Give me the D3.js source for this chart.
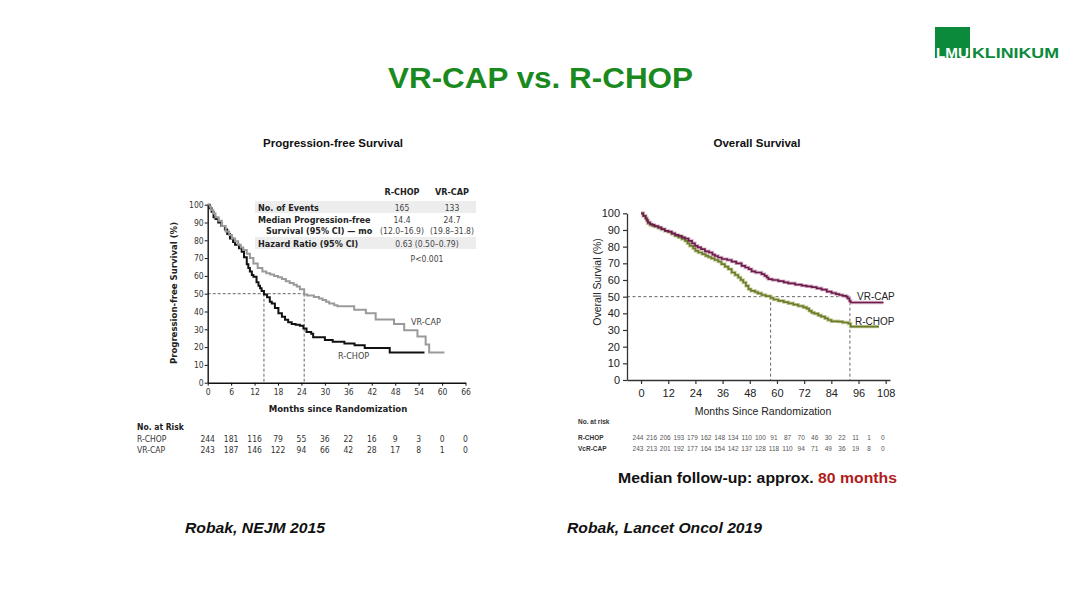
<!DOCTYPE html>
<html><head><meta charset="utf-8">
<script src="https://cdn.jsdelivr.net/npm/d3@7"></script>
<style>
html,body{margin:0;padding:0;background:#fff;}
svg{display:block;}
</style></head>
<body>
<svg id="c" width="1080" height="609"></svg>
<script>
// ---------- DATA ----------
const pfsXTicks = [0,6,12,18,24,30,36,42,48,54,60,66];
const pfsYTicks = [0,10,20,30,40,50,60,70,80,90,100];
const pfsRchop = [[0,100],[0.5,98],[1,96],[1.5,93],[2,92],[2.7,90],[3.5,88],[4.4,86],[5,83.5],[5.7,81],[6.5,79],[7,77.5],[8,75.5],[8.7,73.5],[9.3,70.5],[10,66.5],[10.4,64.5],[10.8,62.5],[11.3,60.5],[11.7,59.5],[12.5,56.5],[13,54.5],[13.4,53],[13.8,51.5],[14.4,49.5],[15.2,48],[15.9,45.5],[16.4,44.5],[17.2,42],[18.1,39],[19,37],[19.8,35.3],[20.6,34],[21.5,33],[22.5,32.5],[23.6,32],[24.5,30.5],[25.3,28.5],[26.5,27.5],[27,25.5],[30,24],[32,23],[35,22],[37.6,21],[40.2,19.5],[46.6,17],[55.5,17]];
const pfsVrcap = [[0,100],[0.3,99],[0.8,97],[1.4,95],[2,93],[2.8,91],[3.6,88],[4.6,85],[5.5,83],[6.2,81],[7,79.5],[7.8,77.5],[8.5,76],[9.1,74.5],[10,72.5],[10.8,70],[11.7,67],[12.8,64.5],[14,62.5],[15,61.5],[16,60.8],[17,60],[18,59.3],[19,58.3],[20,57],[21,56],[22,55],[22.8,54],[23.6,52.5],[24.7,49.5],[25.5,49],[27.2,48.2],[28.5,47.3],[29.4,46.5],[30.3,45.5],[31.1,44.5],[32.4,43.5],[33.2,43],[37.5,41],[40.5,39],[43,35.5],[47.7,33],[50.3,29.5],[53.7,26],[55.8,21.5],[56.7,17],[60.6,17]];
const pfsMedians = [14.4, 24.7];
const pfsTableHeads = ["R-CHOP","VR-CAP"];
const pfsEvents = ["165","133"];
const pfsMedianVals = ["14.4","24.7"];
const pfsMedianCI = ["(12.0–16.9)","(19.8–31.8)"];
const pfsHR = "0.63 (0.50–0.79)";
const pfsP = "P<0.001";
const pfsRiskMonths = [0,6,12,18,24,30,36,42,48,54,60,66];
const pfsRiskRchop = [244,181,116,79,55,36,22,16,9,3,0,0];
const pfsRiskVrcap = [243,187,146,122,94,66,42,28,17,8,1,0];

const osXTicks = [0,12,24,36,48,60,72,84,96,108];
const osYTicks = [0,10,20,30,40,50,60,70,80,90,100];
const osVrcap = [[0,100],[1,98.5],[2,97],[2.5,96],[3,94.5],[4,93.5],[5,93],[6,92.3],[7.6,91.5],[9,90.5],[10.5,89.5],[12,89],[13.5,88],[15,87],[16.5,86.4],[18,85.5],[19.4,84.8],[21,83.5],[22.5,82],[23.8,80.5],[25,79.5],[26.5,78.5],[28.2,77.2],[30,76.5],[31.5,75.2],[32.6,74.4],[34,73.5],[35.6,72.6],[38,72],[40,71],[42,70],[44.4,68.5],[46,67.5],[47.5,66.5],[48.8,65.2],[50.5,64.5],[53.2,63.5],[54.5,62.5],[55.5,61.5],[56.2,60.5],[58,60],[60.6,59.3],[63,58.6],[65,58],[68,57.2],[70.9,56.6],[73,56.2],[75.3,55.7],[77.5,55],[79.7,54.2],[82,53],[84.1,52.2],[86,51.5],[87.5,51],[89,50.5],[90.5,50],[91.2,49],[92,47.5],[92.5,46.5],[107,46.5]];
const osRchop = [[0,100],[1,98.5],[2,97],[2.5,95.5],[3,94],[4,93],[5,92.5],[6,92],[7.6,91.2],[9,90.3],[10.5,89.5],[12,88.8],[13.5,87.6],[15,86.5],[16.5,85.6],[18,84.6],[19.4,83.5],[20.5,82],[21.5,80.5],[23,79],[24,77.5],[25.3,76.5],[27,75.5],[28.5,74.5],[29.7,73.8],[31,73],[32.5,72],[34.1,71],[35.5,69.5],[37,68],[38.5,66.5],[40,64.5],[41.5,63],[42.9,61.5],[44,60],[45.1,58.5],[46.3,56.5],[47.4,54.5],[48.5,53.5],[50.3,52.8],[51.5,52],[53.2,51],[55,50.3],[57.2,49.2],[58.5,48.3],[60.6,47.5],[63,46.7],[65,46],[67.2,45.2],[69.4,44.4],[71.6,43.6],[73.1,42.8],[74.2,41.5],[75.3,40.4],[76.5,39.8],[78.2,38.8],[79.5,38],[81.2,37],[82.5,36],[84,35.2],[87.1,35],[89,34.5],[91.5,33.8],[92.5,32],[105,32]];
const osMedians = [57.2, 92.2];
const osRiskMonths = [0,6,12,18,24,30,36,42,48,54,60,66,72,78,84,90,96,102,108];
const osRiskRchop = [244,216,206,193,179,162,148,134,110,100,91,87,70,46,30,22,11,1,0];
const osRiskVcrcap = [243,213,201,192,177,164,154,142,137,128,118,110,94,71,49,36,19,8,0];

// ---------- DRAW ----------
const svg = d3.select("#c");
const GREEN = "#1a8a1e";
const SANS = "'Liberation Sans', Arial, sans-serif";
const NARROW = "'Liberation Sans Narrow', 'DejaVu Sans Condensed', 'Liberation Sans', sans-serif";

// title
svg.append("text").attr("x",388).attr("y",88)
  .attr("font-family",SANS).attr("font-weight","bold").attr("font-size",29)
  .attr("textLength",305).attr("lengthAdjust","spacingAndGlyphs")
  .attr("fill",GREEN).text("VR-CAP vs. R-CHOP");

// logo
svg.append("rect").attr("x",935).attr("y",27).attr("width",35).attr("height",31).attr("fill","#0a8a3a");
svg.append("text").attr("x",936).attr("y",57.5)
  .attr("font-family",SANS).attr("font-weight","bold").attr("font-size",14)
  .attr("fill","#fff").attr("textLength",33).attr("lengthAdjust","spacingAndGlyphs").text("LMU");
svg.append("text").attr("x",972).attr("y",57.5)
  .attr("font-family",SANS).attr("font-weight","bold").attr("font-size",14.5)
  .attr("fill","#0a8a3a").attr("textLength",87).attr("lengthAdjust","spacingAndGlyphs").text("KLINIKUM");

// ===== Left: PFS =====
const px = d3.scaleLinear().domain([0,66]).range([207.7,465.5]);
const py = d3.scaleLinear().domain([0,100]).range([382.7,204.7]);
const L = svg.append("g").attr("font-family",NARROW);

svg.append("text").attr("x",333).attr("y",147).attr("text-anchor","middle")
  .attr("font-family",SANS).attr("font-weight","bold").attr("font-size",11.5).attr("fill","#111")
  .text("Progression-free Survival");

// table backgrounds
L.append("rect").attr("x",255).attr("y",201).attr("width",221).attr("height",12).attr("fill","#ededed");
L.append("rect").attr("x",255).attr("y",237).attr("width",221).attr("height",12).attr("fill","#ededed");
const colX = [402,452];
pfsTableHeads.forEach((h,i)=>L.append("text").attr("x",colX[i]).attr("y",195).attr("text-anchor","middle")
  .attr("font-weight","bold").attr("font-size",9).attr("fill","#222").text(h));
L.append("text").attr("x",258).attr("y",210.5).attr("font-weight","bold").attr("font-size",9).attr("fill","#222").text("No. of Events");
L.append("text").attr("x",258).attr("y",222.5).attr("font-weight","bold").attr("font-size",9).attr("fill","#222").text("Median Progression-free");
L.append("text").attr("x",266).attr("y",234).attr("font-weight","bold").attr("font-size",9).attr("fill","#222").text("Survival (95% CI) — mo");
L.append("text").attr("x",258).attr("y",246.5).attr("font-weight","bold").attr("font-size",9).attr("fill","#222").text("Hazard Ratio (95% CI)");
pfsEvents.forEach((v,i)=>L.append("text").attr("x",colX[i]).attr("y",210.5).attr("text-anchor","middle").attr("font-size",8.5).attr("fill","#444").text(v));
pfsMedianVals.forEach((v,i)=>L.append("text").attr("x",colX[i]).attr("y",222.5).attr("text-anchor","middle").attr("font-size",8.5).attr("fill","#444").text(v));
pfsMedianCI.forEach((v,i)=>L.append("text").attr("x",colX[i]).attr("y",234).attr("text-anchor","middle").attr("font-size",8.5).attr("fill","#444").text(v));
L.append("text").attr("x",427).attr("y",246.5).attr("text-anchor","middle").attr("font-size",8.5).attr("fill","#444").text(pfsHR);
L.append("text").attr("x",427).attr("y",262).attr("text-anchor","middle").attr("font-size",8.5).attr("fill","#444").text(pfsP);

// dashed median lines
L.append("line").attr("x1",px(0)).attr("x2",px(pfsMedians[1])).attr("y1",py(50)).attr("y2",py(50))
  .attr("stroke","#555").attr("stroke-dasharray","3,2").attr("stroke-width",0.9);
pfsMedians.forEach(m=>L.append("line").attr("x1",px(m)).attr("x2",px(m)).attr("y1",py(50)).attr("y2",py(0))
  .attr("stroke","#555").attr("stroke-dasharray","3,2").attr("stroke-width",0.9));

const pline = d3.line().x(d=>px(d[0])).y(d=>py(d[1])).curve(d3.curveStepAfter);
L.append("path").datum(pfsRchop).attr("d",pline).attr("fill","none").attr("stroke","#111").attr("stroke-width",2);
L.append("path").datum(pfsVrcap).attr("d",pline).attr("fill","none").attr("stroke","#9a9a9a").attr("stroke-width",2);

// axes
const pxAxis = L.append("g").attr("transform",`translate(0,${py(0)})`)
  .call(d3.axisBottom(px).tickValues(pfsXTicks).tickSize(3).tickSizeOuter(0));
const pyAxis = L.append("g").attr("transform",`translate(${px(0)},0)`)
  .call(d3.axisLeft(py).tickValues(pfsYTicks).tickSize(3).tickSizeOuter(0));
[pxAxis,pyAxis].forEach(a=>{
  a.select(".domain").attr("stroke","#111").attr("stroke-width",1.4);
  a.selectAll(".tick line").attr("stroke","#111").attr("stroke-width",1);
  a.selectAll(".tick text").attr("font-family",NARROW).attr("font-size",8.5).attr("fill","#333");
});
pyAxis.selectAll(".tick text").attr("x",-4);
pxAxis.selectAll(".tick text").attr("y",6);

L.append("text").attr("x",338).attr("y",412).attr("text-anchor","middle").attr("font-weight","bold").attr("font-size",9.5).attr("fill","#222").text("Months since Randomization");
L.append("text").attr("transform","translate(177,293) rotate(-90)").attr("text-anchor","middle").attr("font-weight","bold").attr("font-size",9.5).attr("fill","#222").text("Progression-free Survival (%)");
L.append("text").attr("x",411).attr("y",324.5).attr("font-size",9).attr("fill","#444").text("VR-CAP");
L.append("text").attr("x",338).attr("y",358.5).attr("font-size",9).attr("fill","#444").text("R-CHOP");

// at risk
L.append("text").attr("x",137).attr("y",430).attr("font-weight","bold").attr("font-size",8.5).attr("fill","#222").text("No. at Risk");
L.append("text").attr("x",137).attr("y",441.5).attr("font-size",8.5).attr("fill","#333").text("R-CHOP");
L.append("text").attr("x",137).attr("y",453).attr("font-size",8.5).attr("fill","#333").text("VR-CAP");
pfsRiskRchop.forEach((v,i)=>L.append("text").attr("x",px(pfsRiskMonths[i])).attr("y",441.5).attr("text-anchor","middle").attr("font-size",8.5).attr("fill","#333").text(v));
pfsRiskVrcap.forEach((v,i)=>L.append("text").attr("x",px(pfsRiskMonths[i])).attr("y",453).attr("text-anchor","middle").attr("font-size",8.5).attr("fill","#333").text(v));

// ===== Right: OS =====
const ox = d3.scaleLinear().domain([-6.2,109.9]).range([627,890]);
const oy = d3.scaleLinear().domain([0,100]).range([380,213.3]);
const R = svg.append("g").attr("font-family",SANS);

svg.append("text").attr("x",757).attr("y",147).attr("text-anchor","middle")
  .attr("font-family",SANS).attr("font-weight","bold").attr("font-size",11.5).attr("fill","#111")
  .text("Overall Survival");

R.append("line").attr("x1",ox(-6.2)).attr("x2",ox(osMedians[1])).attr("y1",oy(50)).attr("y2",oy(50))
  .attr("stroke","#666").attr("stroke-dasharray","3,2.5").attr("stroke-width",1);
osMedians.forEach(m=>R.append("line").attr("x1",ox(m)).attr("x2",ox(m)).attr("y1",oy(50)).attr("y2",oy(0))
  .attr("stroke","#666").attr("stroke-dasharray","3,2.5").attr("stroke-width",1));

const oline = d3.line().x(d=>ox(d[0])).y(d=>oy(d[1])).curve(d3.curveStepAfter);
R.append("path").datum(osRchop).attr("d",oline).attr("fill","none").attr("stroke","#c9d0a4").attr("stroke-width",3.4);
R.append("path").datum(osVrcap).attr("d",oline).attr("fill","none").attr("stroke","#d8b9cb").attr("stroke-width",3.4);
R.append("path").datum(osRchop).attr("d",oline).attr("fill","none").attr("stroke","#6b7b2a").attr("stroke-width",1.7);
R.append("path").datum(osVrcap).attr("d",oline).attr("fill","none").attr("stroke","#6e1c4c").attr("stroke-width",1.7);

const oxAxis = R.append("g").attr("transform",`translate(0,${oy(0)})`)
  .call(d3.axisBottom(ox).tickValues(osXTicks).tickSize(4).tickSizeOuter(0));
const oyAxis = R.append("g").attr("transform",`translate(${ox(-6.2)},0)`)
  .call(d3.axisLeft(oy).tickValues(osYTicks).tickSize(4).tickSizeOuter(0));
[oxAxis,oyAxis].forEach(a=>{
  a.select(".domain").attr("stroke","#333").attr("stroke-width",1.3);
  a.selectAll(".tick line").attr("stroke","#333").attr("stroke-width",1.2);
  a.selectAll(".tick text").attr("font-family",SANS).attr("font-size",11).attr("fill","#222");
});
oyAxis.selectAll(".tick text").attr("x",-7);
oxAxis.selectAll(".tick text").attr("y",9);

R.append("text").attr("x",763).attr("y",415).attr("text-anchor","middle").attr("font-size",10.5).attr("fill","#222").text("Months Since Randomization");
R.append("text").attr("transform","translate(601,282) rotate(-90)").attr("text-anchor","middle").attr("font-size",10.5).attr("fill","#222").text("Overall Survial (%)");
R.append("text").attr("x",857).attr("y",300).attr("font-size",10).attr("fill","#222").text("VR-CAP");
R.append("text").attr("x",855).attr("y",325).attr("font-size",10).attr("fill","#222").text("R-CHOP");

R.append("text").attr("x",578).attr("y",424).attr("font-weight","bold").attr("font-size",6.5).attr("fill","#333").text("No. at risk");
R.append("text").attr("x",578).attr("y",439.5).attr("font-weight","bold").attr("font-size",6.5).attr("fill","#333").text("R-CHOP");
R.append("text").attr("x",578).attr("y",451).attr("font-weight","bold").attr("font-size",6.5).attr("fill","#333").text("VcR-CAP");
osRiskRchop.forEach((v,i)=>R.append("text").attr("x",ox(osRiskMonths[i])-3).attr("y",439.5).attr("text-anchor","middle").attr("font-size",6.5).attr("fill","#555").text(v));
osRiskVcrcap.forEach((v,i)=>R.append("text").attr("x",ox(osRiskMonths[i])-3).attr("y",451).attr("text-anchor","middle").attr("font-size",6.5).attr("fill","#555").text(v));

// follow-up note
const fu = svg.append("text").attr("x",618).attr("y",483).attr("font-family",SANS)
  .attr("font-weight","bold").attr("font-size",15.5).attr("fill","#111")
  .attr("textLength",279).attr("lengthAdjust","spacingAndGlyphs");
fu.append("tspan").text("Median follow-up: approx. ");
fu.append("tspan").attr("fill","#b01c1c").text("80 months");

// citations
svg.append("text").attr("x",185).attr("y",533).attr("font-family",SANS).attr("font-weight","bold")
  .attr("font-style","italic").attr("font-size",15.5).attr("fill","#111")
  .attr("textLength",140).attr("lengthAdjust","spacingAndGlyphs").text("Robak, NEJM 2015");
svg.append("text").attr("x",567).attr("y",533).attr("font-family",SANS).attr("font-weight","bold")
  .attr("font-style","italic").attr("font-size",15.5).attr("fill","#111")
  .attr("textLength",195).attr("lengthAdjust","spacingAndGlyphs").text("Robak, Lancet Oncol 2019");
</script>
</body></html>
